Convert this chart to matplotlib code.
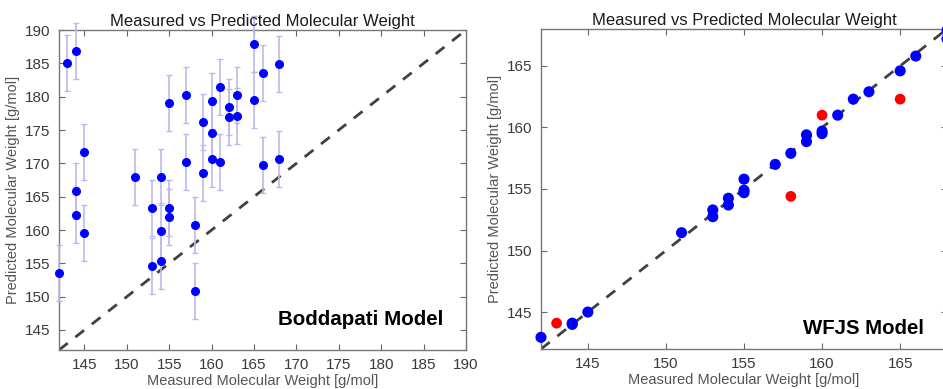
import numpy as np
import matplotlib
matplotlib.use("Agg")
import matplotlib.pyplot as plt

plt.rcParams['font.family'] = ['Liberation Sans', 'DejaVu Sans']

# Boddapati model (left panel)
bod_measured = [142, 143, 144, 144, 144, 145, 145, 151, 153, 153, 154, 154, 154,
                155, 155, 155, 157, 157, 158, 158, 159, 159, 160, 160, 160,
                161, 161, 162, 162, 163, 163, 165, 165, 166, 166, 168, 168]
bod_predicted = [153.6, 185.1, 186.8, 165.8, 162.3, 171.7, 159.6, 168.0, 163.3, 154.6,
                 168.0, 159.9, 155.3, 179.0, 163.3, 161.9, 180.3, 170.2, 160.8, 150.9,
                 176.2, 168.5, 179.3, 174.5, 170.6, 181.5, 170.2, 178.5, 177.0, 180.3,
                 177.1, 187.9, 179.5, 183.6, 169.7, 184.9, 170.6]
bod_err = 4.2

# WFJS model (right panel)
wfjs_measured = [142, 144, 144, 145, 151, 153, 153, 154, 154, 155, 155, 155,
                 157, 158, 159, 159, 160, 160, 161, 162, 163, 165, 166, 168, 168]
wfjs_predicted = [142.95, 144.0, 144.1, 145.0, 151.45, 153.3, 152.75, 154.25, 153.7,
                  155.8, 154.9, 154.7, 157.0, 157.9, 159.4, 158.85, 159.7, 159.5,
                  161.0, 162.3, 162.9, 164.6, 165.8, 167.9, 167.2]
wfjs_out_measured = [143, 158, 160, 165]
wfjs_out_predicted = [144.1, 154.4, 161.0, 162.3]

title = "Measured vs Predicted Molecular Weight"
xlab = "Measured Molecular Weight [g/mol]"
ylab = "Predicted Molecular Weight [g/mol]"

W, H = 943, 389
fig = plt.figure(figsize=(W / 100, H / 100), dpi=100)

ax1 = fig.add_axes([59 / W, 1 - 350 / H, 407 / W, 320 / H])
ax2 = fig.add_axes([541 / W, 1 - 349 / H, 406 / W, 320 / H])

tick_col = '#3a3a3a'
lab_col = '#555555'


def style(ax, lo, hi, ticks):
    ax.set_xlim(lo, hi)
    ax.set_ylim(lo, hi)
    ax.set_xticks(ticks)
    ax.set_yticks(ticks)
    ax.tick_params(direction='in', top=True, right=True, length=4,
                   width=0.8, color='#666666', labelsize=11,
                   labelcolor=tick_col, pad=6)
    for s in ax.spines.values():
        s.set_color('#777777')
        s.set_linewidth(1.0)
    ax.plot([lo, hi], [lo, hi], '--', color='#404040', lw=2, dashes=(4, 3.5), zorder=1)
    ax.set_title(title, fontsize=12, color='#1a1a1a', pad=3)
    ax.set_xlabel(xlab, fontsize=10.5, color=lab_col, labelpad=1)
    ax.set_ylabel(ylab, fontsize=10.5, color=lab_col, labelpad=4)


style(ax1, 142, 190, np.arange(145, 191, 5))
ax1.errorbar(bod_measured, bod_predicted, yerr=bod_err, fmt='o', color='#0000ff',
             ms=5.5, ecolor='#babaee', elinewidth=1.2, capsize=2.5, capthick=1,
             zorder=3, clip_on=False)
ax1.text(0.945, 0.065, "Boddapati Model", transform=ax1.transAxes, ha='right',
         va='bottom', fontsize=14.8, fontweight='bold', color='black')

style(ax2, 142, 168, np.arange(145, 166, 5))
ax2.scatter(wfjs_measured, wfjs_predicted, s=64, color='#0000ff', zorder=3,
            clip_on=False, edgecolors='none')
ax2.scatter(wfjs_out_measured, wfjs_out_predicted, s=60, color='#ff0000', zorder=3,
            clip_on=False, edgecolors='none')
ax2.text(0.943, 0.035, "WFJS Model", transform=ax2.transAxes, ha='right',
         va='bottom', fontsize=14.7, fontweight='bold', color='black')

fig.savefig("out.png", dpi=100)
